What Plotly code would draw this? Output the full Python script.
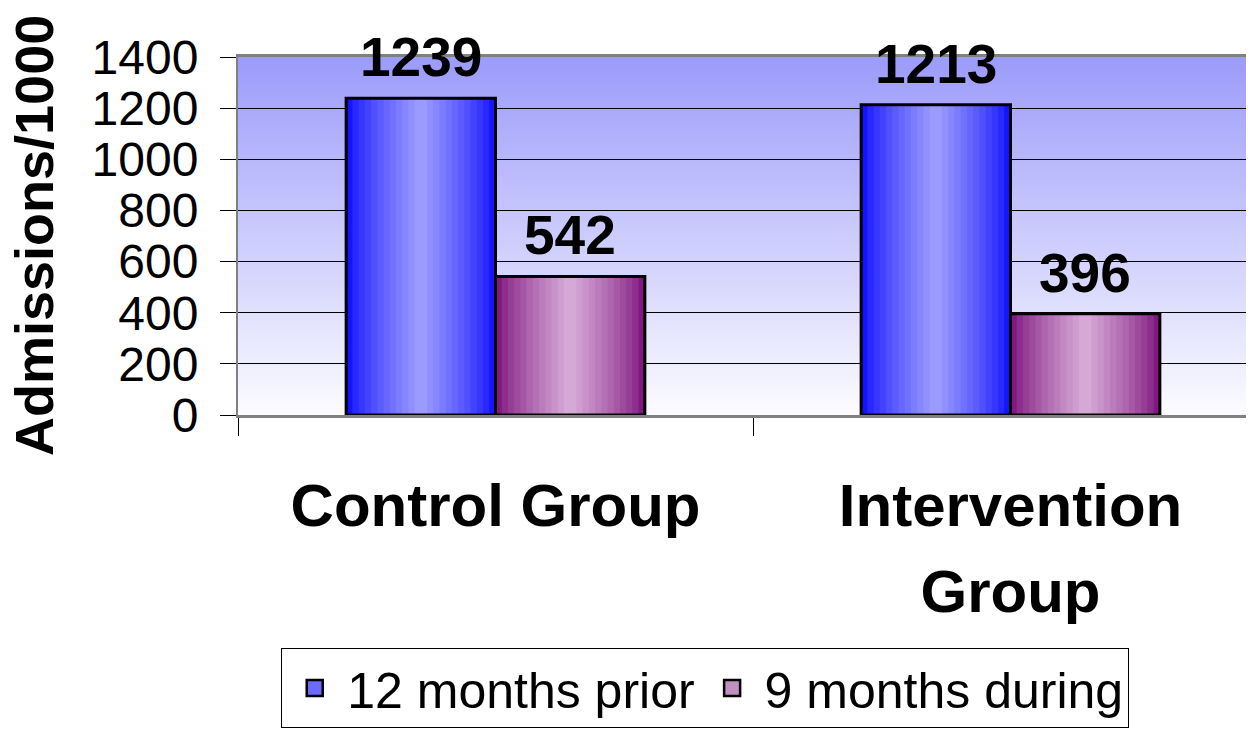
import base64
import struct
import zlib

import plotly.graph_objects as go

# chart data
groups = ["Control Group", "Intervention<br>Group"]
series_names = ["12 months prior", "9 months during"]
series_values = [[1239, 1213], [542, 396]]
y_ticks = [0, 200, 400, 600, 800, 1000, 1200, 1400]
y_title = "Admissions/1000"

# styling
FONT = "Liberation Sans, Arial, sans-serif"
edge_colors = [(20, 20, 255), (128, 24, 128)]
center_colors = [(154, 154, 255), (214, 168, 214)]
legend_colors = ["#6a6aff", "#c090c0"]
BAR_W = 0.29
N_LAYERS = 12


def _png_chunk(tag, data):
    body = tag + data
    return struct.pack(">I", len(data)) + body + struct.pack(">I", zlib.crc32(body) & 0xFFFFFFFF)


def vertical_gradient_png(top, bottom, height=128):
    """Tiny 2px wide PNG fading from top colour to bottom colour."""
    raw = b""
    for r in range(height):
        t = r / (height - 1)
        c = bytes(round(top[k] + (bottom[k] - top[k]) * t) for k in range(3))
        raw += b"\x00" + c * 2
    png = b"\x89PNG\r\n\x1a\n"
    png += _png_chunk(b"IHDR", struct.pack(">IIBBBBB", 2, height, 8, 2, 0, 0, 0))
    png += _png_chunk(b"IDAT", zlib.compress(raw))
    png += _png_chunk(b"IEND", b"")
    return "data:image/png;base64," + base64.b64encode(png).decode()


def mix(a, b, t):
    return "rgb({},{},{})".format(*(round(a[k] + (b[k] - a[k]) * t) for k in range(3)))


x_pos = list(range(len(groups)))
fig = go.Figure()

for s, (name, vals) in enumerate(zip(series_names, series_values)):
    center = (s - 0.5) * BAR_W
    # cylinder-ish shading: narrower, lighter bars stacked on top of each other
    for i in range(N_LAYERS):
        w = BAR_W * (1 - i / N_LAYERS)
        t = (i / (N_LAYERS - 1)) ** 0.8
        fig.add_trace(go.Bar(
            x=x_pos, y=vals, width=w, offset=center - w / 2,
            marker=dict(color=mix(edge_colors[s], center_colors[s], t), line=dict(width=0)),
            showlegend=False, hoverinfo="skip",
        ))
    # outline on top
    fig.add_trace(go.Bar(
        x=x_pos, y=vals, width=BAR_W, offset=center - BAR_W / 2,
        marker=dict(color="rgba(0,0,0,0)", line=dict(color="black", width=3)),
        showlegend=False, hoverinfo="skip",
    ))
    # legend swatch only (bigger than the default bar swatch)
    fig.add_trace(go.Scatter(
        x=[None], y=[None], mode="markers", name=name,
        marker=dict(symbol="square", size=16, color=legend_colors[s],
                    line=dict(color="black", width=2.5)),
    ))
    for xi, v in zip(x_pos, vals):
        fig.add_annotation(
            x=xi + center, y=v, text=f"<b>{v}</b>", showarrow=False,
            yanchor="bottom", yshift=8, font=dict(family=FONT, size=55, color="black"),
        )

# y axis title as a rotated annotation so it can sit close to the page edge
fig.add_annotation(
    xref="paper", yref="paper", x=0, y=0.5, xshift=-204, xanchor="center", yanchor="middle",
    text=f"<b>{y_title}</b>", textangle=-90, showarrow=False,
    font=dict(family=FONT, size=54, color="black"),
)

fig.add_layout_image(
    source=vertical_gradient_png((156, 156, 250), (252, 252, 255)),
    xref="x", yref="y", x=-0.5, y=y_ticks[-1], sizex=len(groups), sizey=y_ticks[-1],
    sizing="stretch", layer="below", xanchor="left", yanchor="top",
)

boundaries = [i - 0.5 for i in range(len(groups) + 1)]

# the page body adds an 8px offset, so margins are set 8px short
fig.update_layout(
    width=1254, height=736,
    margin=dict(l=230, r=8, t=49, b=329, autoexpand=False),
    barmode="overlay",
    paper_bgcolor="white", plot_bgcolor="white",
    font=dict(family=FONT, color="black"),
    showlegend=True,
    legend=dict(
        orientation="h", xref="container", yref="container",
        x=0.556, y=1 - 640 / 736, xanchor="center", yanchor="top",
        bordercolor="black", borderwidth=1, bgcolor="white",
        font=dict(size=50, family=FONT), traceorder="normal", itemwidth=55,
    ),
    xaxis=dict(
        automargin=False,
        range=[-0.5, -0.5 + 1016 / 515],
        tickvals=x_pos,
        ticktext=[f"<span style='font-size:60px'><b>{g}</b></span>" for g in groups],
        ticks="", tickfont=dict(size=66, family=FONT),
        ticklabelstandoff=29,
        minor=dict(tickvals=boundaries, ticks="outside", ticklen=18, tickcolor="black", tickwidth=1),
        showgrid=False, zeroline=False,
        showline=True, linecolor="#808080", linewidth=3, mirror=True,
    ),
    yaxis=dict(
        automargin=False,
        range=[0, y_ticks[-1]], tickvals=y_ticks,
        ticks="outside", ticklen=16, tickcolor="black", tickwidth=1,
        tickfont=dict(size=48, family=FONT), ticklabelstandoff=12,
        showgrid=True, gridcolor="black", gridwidth=1, zeroline=False,
        showline=True, linecolor="#808080", linewidth=2,
    ),
)

fig.write_html("out.html")
